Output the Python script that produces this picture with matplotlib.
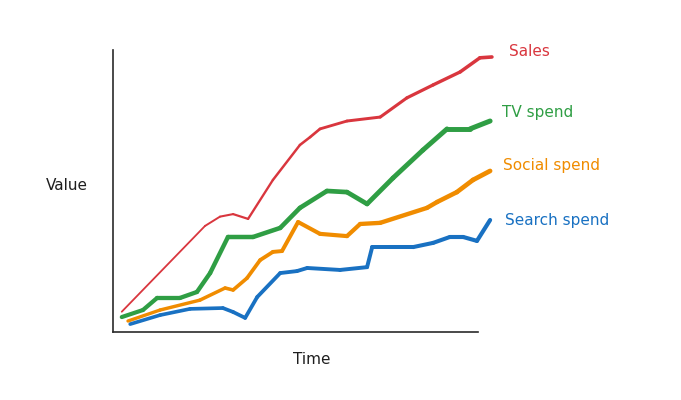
import numpy as np
import matplotlib.pyplot as plt
from matplotlib.collections import LineCollection

# values (x: time, y: value, both 0..100)
sales_t = [2.4, 25.2, 29.3, 32.9, 37.0, 43.8, 51.2, 54.0, 56.7, 64.1, 73.2, 80.5, 87.7, 95.1, 100.5, 103.8]
sales_v = [7.2, 37.6, 40.9, 41.8, 40.1, 53.9, 66.3, 69.1, 72.0, 74.8, 76.2, 83.0, 87.6, 92.2, 97.2, 97.5]

tv_t = [2.4, 8.2, 12.1, 18.4, 23.0, 26.6, 31.5, 38.4, 45.8, 51.2, 58.6, 64.1, 69.6, 76.7, 84.9, 91.5, 97.8, 103.3]
tv_v = [5.3, 7.8, 12.1, 12.1, 14.2, 20.9, 33.7, 33.7, 36.9, 44.0, 50.0, 49.6, 45.4, 54.6, 64.5, 72.0, 72.0, 74.8]

social_t = [4.1, 12.9, 23.8, 30.7, 32.9, 36.7, 40.3, 43.8, 46.3, 50.7, 56.7, 64.1, 67.7, 73.2, 86.0, 88.8, 94.2, 98.6, 103.3]
social_v = [3.9, 7.8, 11.3, 15.6, 14.9, 19.1, 25.5, 28.4, 28.7, 39.0, 34.8, 34.0, 38.3, 38.7, 44.0, 46.1, 49.6, 53.9, 57.1]

search_t = [4.7, 12.9, 21.1, 30.1, 32.9, 36.2, 39.5, 45.8, 50.4, 53.2, 62.2, 69.6, 71.0, 75.9, 82.2, 87.7, 92.3, 95.9, 99.7, 103.3]
search_v = [2.8, 6.0, 8.2, 8.5, 7.1, 5.0, 12.4, 20.9, 21.6, 22.7, 22.0, 23.0, 30.1, 30.1, 30.1, 31.6, 33.7, 33.7, 32.3, 39.7]

labels = ["Sales", "TV spend", "Social spend", "Search spend"]
label_pos = [(108.5, 99.6), (106.6, 77.7), (106.8, 58.9), (107.4, 39.7)]
colors = ["#d9363e", "#2f9e44", "#f08c00", "#1971c2"]
widths = [(1.3, 2.6), (3.0, 3.6), (2.4, 3.4), (2.6, 3.0)]

fig = plt.figure(figsize=(6.81, 4.0), dpi=100)
ax = fig.add_axes([0, 0, 1, 1])
ax.set_xlim(-30.96, 155.6)
ax.set_ylim(-24.1, 117.7)

series = [(sales_t, sales_v), (tv_t, tv_v), (social_t, social_v), (search_t, search_v)]
for (t, v), c, (w0, w1) in zip(series, colors, widths):
    pts = np.column_stack([t, v])
    segs = np.stack([pts[:-1], pts[1:]], axis=1)
    lw = np.linspace(w0, w1, len(segs))
    lc = LineCollection(segs, colors=c, linewidths=lw, capstyle="round", joinstyle="round")
    ax.add_collection(lc)

for name, (x, y), c in zip(labels, label_pos, colors):
    ax.text(x, y, name, color=c, fontsize=11, ha="left", va="center")

ax.text(-12.6, 51.8, "Value", fontsize=11, color="#1e1e1e", ha="center", va="center")
ax.text(54.5, -9.9, "Time", fontsize=11, color="#1e1e1e", ha="center", va="center")

for side in ["top", "right"]:
    ax.spines[side].set_visible(False)
ax.spines["left"].set_position(("data", 0))
ax.spines["bottom"].set_position(("data", 0))
ax.spines["left"].set_bounds(0, 100)
ax.spines["bottom"].set_bounds(0, 100)
for side in ["left", "bottom"]:
    ax.spines[side].set_color("#2a2a2a")
    ax.spines[side].set_linewidth(1.2)
ax.set_xticks([])
ax.set_yticks([])
ax.patch.set_alpha(0)

fig.savefig("out.png", dpi=100)
